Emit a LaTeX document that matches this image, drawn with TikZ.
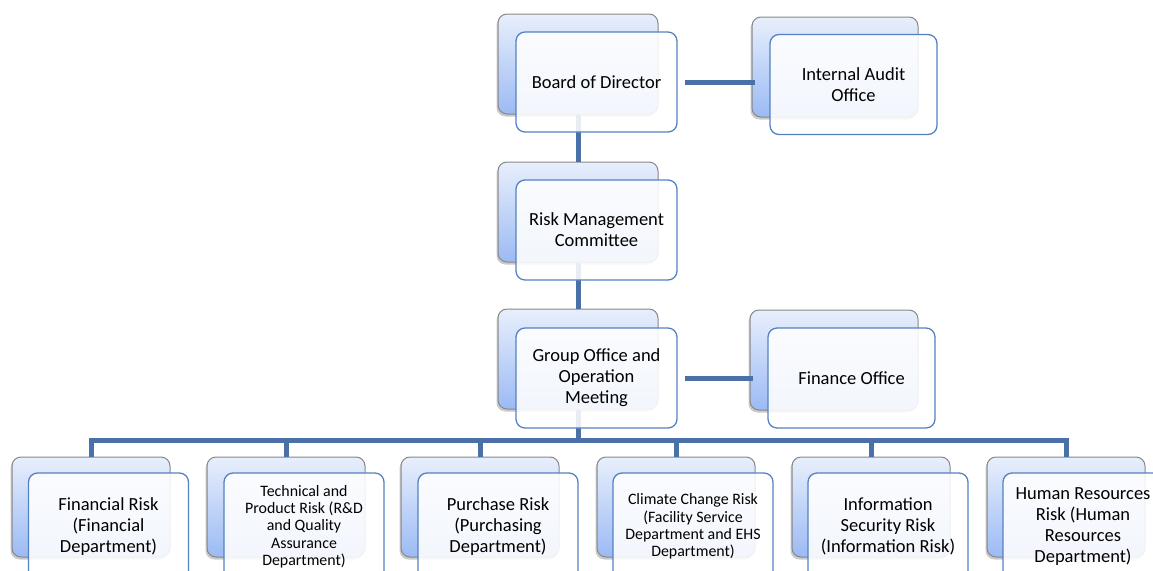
\documentclass[tikz,border=0pt]{standalone}
\usepackage{fontspec}
\setmainfont{Carlito}
\usetikzlibrary{shadows}

\definecolor{linkblue}{RGB}{74,112,168}
\definecolor{frameblue}{RGB}{84,130,192}
\definecolor{boxtop}{RGB}{232,239,252}
\definecolor{boxbot}{RGB}{155,186,244}
\definecolor{boxedge}{RGB}{135,135,135}

\tikzset{
  backbox/.style={rectangle, rounded corners=9pt, draw=boxedge, line width=1pt,
    top color=boxtop, bottom color=boxbot, minimum height=100pt, inner sep=0pt,
    drop shadow={shadow xshift=-1.5pt, shadow yshift=-2.5pt, opacity=0.35, fill=black!60}},
  frontbox/.style={rectangle, rounded corners=9pt, draw=frameblue, line width=1.3pt,
    fill=white, fill opacity=0.88, text opacity=1, minimum height=100pt,
    inner sep=0pt, align=center},
  link/.style={draw=linkblue, line width=5pt},
  big/.style={font=\fontsize{18.5}{21}\selectfont},
  small/.style={font=\fontsize{15.9}{17.3}\selectfont},
}

\begin{document}
\begin{tikzpicture}[x=1pt, y=-1pt]
\useasboundingbox (0,0) rectangle (1153,570);
\clip (0,0) rectangle (1153,570);

% shaded boxes behind
\node[backbox, minimum width=160pt] (boardbg) at (578,64) {};
\node[backbox, minimum width=166pt] (auditbg) at (835,67) {};
\node[backbox, minimum width=160pt] (rmcbg) at (578,212) {};
\node[backbox, minimum width=160pt] (gombg) at (578,359) {};
\node[backbox, minimum width=168pt] (finbg) at (834,360) {};

\node[backbox, minimum width=158pt] (finriskbg) at (91,507) {};
\node[backbox, minimum width=158pt] (techriskbg) at (286,507) {};
\node[backbox, minimum width=158pt] (purriskbg) at (480,507) {};
\node[backbox, minimum width=158pt] (climriskbg) at (676,507) {};
\node[backbox, minimum width=158pt] (inforiskbg) at (871,507) {};
\node[backbox, minimum width=158pt] (hrriskbg) at (1066,507) {};

% links
\draw[link] (boardbg.south) -- (rmcbg.north);
\draw[link] (rmcbg.south) -- (gombg.north);
\draw[link] (gombg.south) -- ++(0,32);
\draw[link] (finriskbg.north) -- ++(0,-16) -| (hrriskbg.north);
\foreach \n in {techriskbg, purriskbg, climriskbg, inforiskbg}
  \draw[link] (\n.north) -- ++(0,-16);

% white boxes in front
\node[frontbox, big, minimum width=161pt] (board) at (596.5,82) {Board of Director};
\node[frontbox, big, minimum width=167pt] (audit) at (853.5,84.5) {Internal Audit\\Office};
\node[frontbox, big, minimum width=161pt] (rmc) at (596.5,230) {Risk Management\\Committee};
\node[frontbox, big, minimum width=161pt] (gom) at (596.5,378) {Group Office and\\Operation\\Meeting};
\node[frontbox, big, minimum width=167pt] (fin) at (851.5,378) {Finance Office};

% bottom row runs off the page
\node[frontbox, big, minimum width=160pt, minimum height=107pt] (finrisk) at (108.5,526.5) {Financial Risk\\(Financial\\Department)};
\node[frontbox, small, minimum width=160pt, minimum height=107pt] (techrisk) at (304,526.5) {Technical and\\Product Risk (R\&D\\and Quality\\Assurance\\Department)};
\node[frontbox, big, minimum width=160pt, minimum height=107pt] (purrisk) at (498,526.5) {Purchase Risk\\(Purchasing\\Department)};
\node[frontbox, small, minimum width=160pt, minimum height=107pt] (climrisk) at (693,526.5) {Climate Change Risk\\(Facility Service\\Department and EHS\\Department)};
\node[frontbox, big, minimum width=160pt, minimum height=107pt] (inforisk) at (888,526.5) {Information\\Security Risk\\(Information Risk)};
\node[frontbox, big, minimum width=160pt, minimum height=107pt] (hrrisk) at (1083,526.5) {Human Resources\\Risk (Human\\Resources\\Department)};

% side links
\draw[link, shorten <=7pt, shorten >=-3pt] (board.east) -- (board.east -| auditbg.west);
\draw[link, shorten <=7pt, shorten >=-3pt] (gom.east) -- (gom.east -| finbg.west);
\end{tikzpicture}
\end{document}
